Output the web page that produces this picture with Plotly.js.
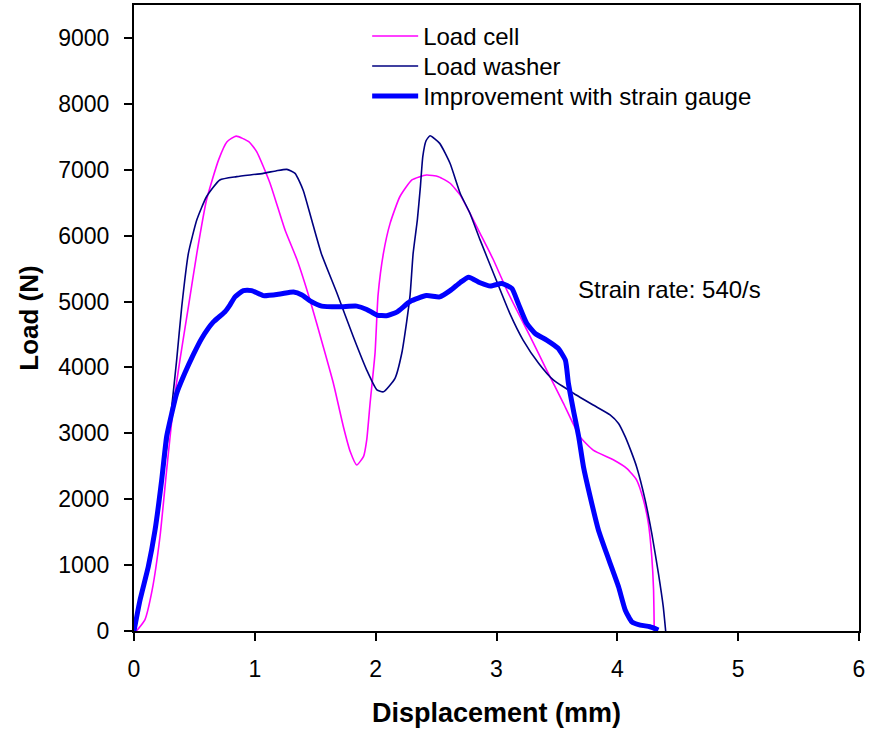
<!DOCTYPE html>
<html>
<head>
<meta charset="utf-8">
<script src="https://cdn.plot.ly/plotly-3.0.1.min.js"></script>
<style>html,body{margin:0;padding:0;background:#fff;}#chart{width:878px;height:730px;}</style>
</head>
<body>
<div id="chart"></div>
<script>
// Load cell (magenta)
const cellX = [0.02, 0.09, 0.15, 0.215, 0.27, 0.325, 0.38, 0.45, 0.52, 0.60, 0.70, 0.77, 0.845, 0.95, 1.015, 1.125, 1.25, 1.35, 1.457, 1.567, 1.65, 1.733, 1.79, 1.843, 1.90, 1.926, 1.954, 1.995, 2.02, 2.064, 2.12, 2.20, 2.30, 2.42, 2.52, 2.616, 2.70, 2.78, 2.864, 2.975, 3.085, 3.14, 3.28, 3.415, 3.554, 3.69, 3.80, 3.97, 4.08, 4.16, 4.216, 4.257, 4.285, 4.30, 4.305, 4.305];
const cellY = [0, 170, 620, 1430, 2440, 3400, 4110, 4920, 5730, 6540, 7150, 7425, 7510, 7425, 7275, 6800, 6085, 5630, 5020, 4310, 3760, 3100, 2720, 2520, 2650, 2900, 3460, 4220, 5100, 5730, 6190, 6590, 6845, 6920, 6895, 6795, 6615, 6340, 6035, 5630, 5175, 4970, 4465, 3960, 3455, 2950, 2745, 2595, 2465, 2290, 1990, 1635, 1130, 620, 65, 0];

// Load washer (navy)
const washerX = [0, 0.077, 0.16, 0.243, 0.312, 0.353, 0.395, 0.45, 0.52, 0.60, 0.71, 0.85, 1.07, 1.18, 1.265, 1.333, 1.40, 1.47, 1.55, 1.68, 1.815, 1.926, 2.01, 2.064, 2.16, 2.216, 2.257, 2.285, 2.31, 2.345, 2.37, 2.39, 2.417, 2.45, 2.53, 2.616, 2.70, 2.78, 2.864, 2.975, 3.11, 3.22, 3.35, 3.47, 3.64, 3.80, 3.94, 4.01, 4.065, 4.11, 4.16, 4.23, 4.285, 4.34, 4.38, 4.40];
const washerY = [0, 670, 1430, 2390, 3400, 4110, 4920, 5730, 6240, 6590, 6845, 6895, 6945, 6985, 7005, 6945, 6690, 6240, 5730, 5125, 4465, 3960, 3660, 3630, 3835, 4215, 4700, 5100, 5730, 6240, 6740, 7200, 7440, 7515, 7400, 7095, 6640, 6340, 5935, 5430, 4820, 4415, 4060, 3810, 3605, 3430, 3280, 3150, 2950, 2745, 2490, 1990, 1480, 875, 370, 0];

// Improvement with strain gauge (thick blue)
const gaugeX = [0, 0.05, 0.118, 0.174, 0.229, 0.27, 0.312, 0.353, 0.42, 0.49, 0.56, 0.657, 0.753, 0.795, 0.836, 0.905, 0.974, 1.07, 1.21, 1.32, 1.39, 1.457, 1.553, 1.705, 1.843, 1.926, 2.01, 2.09, 2.175, 2.285, 2.42, 2.53, 2.616, 2.70, 2.77, 2.864, 2.95, 3.044, 3.127, 3.18, 3.25, 3.32, 3.415, 3.51, 3.57, 3.595, 3.636, 3.68, 3.72, 3.775, 3.844, 3.93, 4.01, 4.065, 4.12, 4.19, 4.27, 4.34];
const gaugeY = [0, 470, 975, 1530, 2290, 2950, 3300, 3605, 3910, 4190, 4440, 4690, 4845, 4950, 5070, 5165, 5165, 5090, 5115, 5145, 5100, 5010, 4930, 4920, 4930, 4880, 4795, 4785, 4840, 5000, 5090, 5070, 5165, 5290, 5370, 5285, 5235, 5275, 5200, 4970, 4670, 4515, 4415, 4290, 4110, 3760, 3355, 2950, 2490, 2040, 1530, 1080, 670, 320, 140, 90, 65, 15];

const seriesNames = ['Load cell', 'Load washer', 'Improvement with strain gauge'];
const xTickVals = [0, 1, 2, 3, 4, 5, 6];
const yTickVals = [0, 1000, 2000, 3000, 4000, 5000, 6000, 7000, 8000, 9000];
const xTitle = 'Displacement (mm)';
const yTitle = 'Load (N)';
const noteText = 'Strain rate: 540/s';
const noteX = 3.66, noteY = 5175;

const FONT = 'Liberation Sans, Arial, Helvetica, sans-serif';

const traces = [
  {x: cellX, y: cellY, name: seriesNames[0], mode: 'lines', legend: 'legend',
   line: {color: '#FF00FF', width: 1.6, shape: 'spline', smoothing: 0.5}},
  {x: washerX, y: washerY, name: seriesNames[1], mode: 'lines', legend: 'legend2',
   line: {color: '#000080', width: 1.6, shape: 'spline', smoothing: 0.5}},
  {x: gaugeX, y: gaugeY, name: seriesNames[2], mode: 'lines', legend: 'legend3',
   line: {color: '#0000FF', width: 5, shape: 'spline', smoothing: 0.5}}
];

function legendAt(yPos) {
  return {
    x: 0.3216, y: yPos, xanchor: 'left', yanchor: 'top',
    bgcolor: 'rgba(0,0,0,0)', borderwidth: 0,
    font: {family: FONT, size: 24, color: '#000'},
    itemwidth: 46
  };
}

const axisBase = {
  showline: true, linewidth: 2, linecolor: '#000', mirror: true,
  showgrid: false, zeroline: false,
  ticks: 'outside', ticklen: 8, tickwidth: 2, tickcolor: '#000',
  tickfont: {family: FONT, size: 23, color: '#000'}
};

const layout = {
  width: 878, height: 730,
  margin: {l: 134, r: 19, t: 5, b: 99, pad: 0},
  paper_bgcolor: '#fff', plot_bgcolor: '#fff',
  font: {family: FONT, color: '#000'},
  showlegend: true,
  legend: legendAt(0.9858),
  legend2: legendAt(0.9379),
  legend3: legendAt(0.8899),
  xaxis: Object.assign({}, axisBase, {
    range: [0, 6], tickvals: xTickVals, ticktext: xTickVals.map(String),
    ticklabelstandoff: 8,
    title: {text: '<b>' + xTitle + '</b>', font: {family: FONT, size: 27, color: '#000'}, standoff: 23}
  }),
  yaxis: Object.assign({}, axisBase, {
    range: [0, 9500], tickvals: yTickVals, ticktext: yTickVals.map(String),
    ticklabelstandoff: 10,
    title: {text: '<b>' + yTitle + '</b>', font: {family: FONT, size: 26, color: '#000'}, standoff: 12}
  }),
  annotations: [{
    x: noteX, y: noteY, xref: 'x', yref: 'y', text: noteText, showarrow: false,
    xanchor: 'left', yanchor: 'middle',
    font: {family: FONT, size: 24, color: '#000'}
  }]
};

Plotly.newPlot('chart', traces, layout, {displayModeBar: false, staticPlot: true});
</script>
</body>
</html>
